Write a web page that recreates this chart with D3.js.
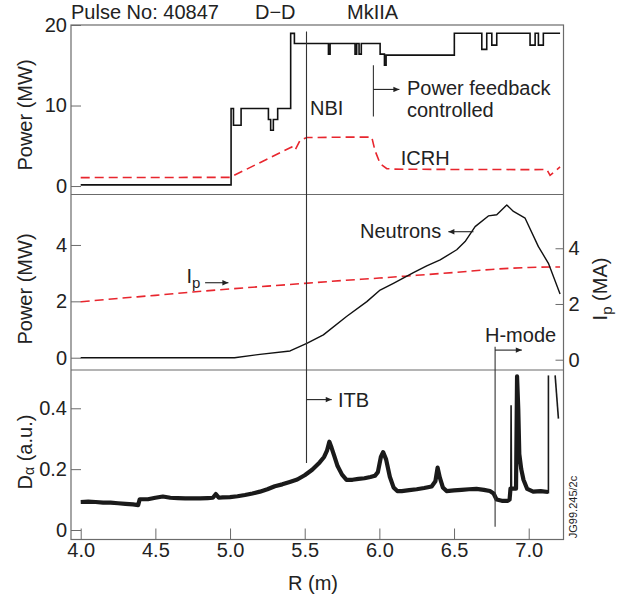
<!DOCTYPE html>
<html><head><meta charset="utf-8">
<script src="https://cdn.jsdelivr.net/npm/d3@7"></script>
<style>
body{margin:0;background:#fff;}
svg text{font-family:"Liberation Sans",Arial,Helvetica,sans-serif;fill:#222;}
</style></head><body>
<svg id="chart" width="622" height="596"></svg>
<script>
// ---------- data ----------
const xTicks = [4.0, 4.5, 5.0, 5.5, 6.0, 6.5, 7.0];
const powerTicks = [0, 10, 20];
const neutronTicks = [0, 2, 4];
const ipTicks = [0, 2, 4];
const daTicks = [0, 0.2, 0.4];

// NBI power (MW), step trace
const nbiR = [4.00, 5.007, 5.023, 5.074, 5.257, 5.272, 5.290, 5.319, 5.406, 5.431, 5.659, 5.670, 5.837, 5.848, 5.864, 5.879, 6.005, 6.034, 6.045, 6.502, 6.686, 6.719, 6.753, 6.786, 7.009, 7.043, 7.065, 7.098, 7.21];
const nbiP = [0.15, 9.63, 7.55, 9.63, 8.26, 6.93, 8.26, 9.63, 18.96, 17.71, 16.38, 17.71, 16.38, 17.71, 16.38, 17.71, 16.38, 15.0, 16.26, 18.97, 16.97, 18.97, 17.5, 18.97, 17.5, 18.97, 17.5, 18.97, 18.97];

// ICRH power (MW)
const icrhR = [4.00, 5.00, 5.413, 5.435, 5.469, 5.514, 5.75, 5.949, 5.970, 6.005, 6.050, 6.10, 6.50, 7.00, 7.121, 7.143, 7.21];
const icrhP = [1.05, 1.08, 4.85, 4.44, 5.68, 6.02, 6.07, 6.08, 4.44, 2.79, 2.16, 2.10, 2.06, 2.04, 2.05, 1.33, 2.37];

// Neutron power (MW)
const neutronR = [4.00, 4.50, 5.03, 5.20, 5.402, 5.514, 5.625, 5.78, 5.916, 6.005, 6.094, 6.228, 6.317, 6.407, 6.518, 6.574, 6.641, 6.730, 6.786, 6.853, 6.898, 6.976, 7.065, 7.132, 7.21];
const neutronP = [0.0, 0.0, 0.0, 0.12, 0.24, 0.51, 0.81, 1.46, 1.99, 2.40, 2.64, 3.02, 3.26, 3.47, 3.83, 4.12, 4.65, 5.03, 5.07, 5.42, 5.19, 4.95, 3.94, 3.35, 2.26];

// Plasma current Ip (MA)
const ipR = [4.00, 4.25, 4.50, 4.75, 5.00, 5.25, 5.50, 5.75, 6.00, 6.25, 6.50, 6.75, 7.00, 7.21];
const ipMA = [2.08, 2.20, 2.31, 2.43, 2.54, 2.64, 2.74, 2.84, 2.93, 3.03, 3.13, 3.24, 3.31, 3.33];

// D-alpha (a.u.)
const daR = [4.00, 4.05, 4.10, 4.15, 4.20, 4.25, 4.30, 4.35, 4.385, 4.395, 4.45, 4.50, 4.55, 4.60, 4.65, 4.70, 4.75, 4.80, 4.85, 4.885, 4.905, 4.925, 4.95, 5.00, 5.05, 5.10, 5.15, 5.20, 5.25, 5.30, 5.35, 5.40, 5.45, 5.50, 5.55, 5.60, 5.63, 5.65, 5.665, 5.68, 5.70, 5.72, 5.75, 5.78, 5.82, 5.86, 5.90, 5.94, 5.97, 5.99, 6.01, 6.025, 6.045, 6.07, 6.095, 6.12, 6.15, 6.20, 6.25, 6.30, 6.35, 6.375, 6.39, 6.405, 6.425, 6.45, 6.50, 6.55, 6.60, 6.65, 6.70, 6.74, 6.765, 6.785, 6.82, 6.86, 6.872, 6.878, 6.915, 6.922, 6.930, 6.937, 6.950, 6.965, 6.99, 7.03, 7.08, 7.13];
const daV = [0.092, 0.093, 0.092, 0.090, 0.090, 0.088, 0.086, 0.084, 0.082, 0.101, 0.101, 0.106, 0.110, 0.106, 0.105, 0.104, 0.104, 0.104, 0.105, 0.106, 0.118, 0.106, 0.107, 0.108, 0.111, 0.115, 0.120, 0.126, 0.134, 0.144, 0.150, 0.158, 0.166, 0.180, 0.198, 0.222, 0.240, 0.262, 0.290, 0.270, 0.240, 0.210, 0.182, 0.165, 0.165, 0.168, 0.170, 0.174, 0.178, 0.190, 0.240, 0.256, 0.232, 0.175, 0.140, 0.128, 0.128, 0.131, 0.134, 0.138, 0.143, 0.160, 0.205, 0.172, 0.140, 0.128, 0.130, 0.132, 0.134, 0.135, 0.132, 0.128, 0.120, 0.100, 0.096, 0.096, 0.100, 0.136, 0.136, 0.505, 0.400, 0.250, 0.200, 0.165, 0.135, 0.126, 0.128, 0.125];
// thin spikes of the D-alpha trace
const spike1R = [6.880, 6.882, 6.885];
const spike1V = [0.137, 0.410, 0.137];
const spike2R = [7.132, 7.132];
const spike2V = [0.120, 0.508];
const spike3R = [7.177, 7.199];
const spike3V = [0.508, 0.366];

// ---------- layout ----------
const svg = d3.select("#chart");
const L = 71, R = 563.5, T = 25, B = 539.5, D1 = 194.5, D2 = 370;
const frameColor = "#6b6b6b";
const red = "#e8262e";

const x = d3.scaleLinear().domain([3.935, 7.233]).range([L, R]);
const yTop = d3.scaleLinear().domain([-1.05, 20]).range([D1, T]);
const yMid = d3.scaleLinear().domain([-0.436, 5.79]).range([D2, D1]);
const yIp = d3.scaleLinear().domain([-0.37, 5.93]).range([D2, D1]);
const yDa = d3.scaleLinear().domain([-0.0312, 0.5258]).range([B, D2]);

// arrow marker
svg.append("defs").append("marker")
  .attr("id", "arr").attr("viewBox", "0 0 10 10").attr("refX", 10).attr("refY", 5)
  .attr("markerUnits", "userSpaceOnUse").attr("markerWidth", 7).attr("markerHeight", 6)
  .attr("orient", "auto")
  .append("path").attr("d", "M0,0.5 L10,5 L0,9.5 z").attr("fill", "#222");

function styleAxis(g) {
  g.select(".domain").remove();
  g.selectAll(".tick line").attr("stroke", frameColor);
  g.selectAll(".tick text").attr("font-size", 20).attr("fill", "#222")
    .attr("font-family", "Liberation Sans, Arial, sans-serif");
}
const intFmt = d3.format("d");

// axes
svg.append("g").attr("transform", `translate(${L},0)`)
  .call(d3.axisLeft(yTop).tickValues(powerTicks).tickFormat(intFmt).tickSize(-10).tickPadding(4)).call(styleAxis);
svg.append("g").attr("transform", `translate(${L},0)`)
  .call(d3.axisLeft(yMid).tickValues(neutronTicks).tickFormat(intFmt).tickSize(-10).tickPadding(4)).call(styleAxis);
svg.append("g").attr("transform", `translate(${R},0)`)
  .call(d3.axisRight(yIp).tickValues(ipTicks).tickFormat(intFmt).tickSize(-8).tickPadding(5)).call(styleAxis);
svg.append("g").attr("transform", `translate(${L},0)`)
  .call(d3.axisLeft(yDa).tickValues(daTicks).tickFormat(d => d === 0 ? "0" : d3.format(".1f")(d)).tickSize(-10).tickPadding(4)).call(styleAxis);
svg.append("g").attr("transform", `translate(0,${B})`)
  .call(d3.axisBottom(x).tickValues(xTicks).tickFormat(d3.format(".1f")).tickSize(-11).tickPadding(3.5)).call(styleAxis);

// frame
svg.append("rect").attr("x", L).attr("y", T).attr("width", R - L).attr("height", B - T)
  .attr("fill", "none").attr("stroke", frameColor).attr("stroke-width", 1.2);
[D1, D2].forEach(v => svg.append("line").attr("x1", L).attr("x2", R).attr("y1", v).attr("y2", v)
  .attr("stroke", frameColor).attr("stroke-width", 1.2));

// ---------- series ----------
const zip = (a, b) => a.map((v, i) => [v, b[i]]);

svg.append("path").datum(zip(icrhR, icrhP))
  .attr("d", d3.line().x(d => x(d[0])).y(d => yTop(d[1])))
  .attr("fill", "none").attr("stroke", red).attr("stroke-width", 1.6).attr("stroke-dasharray", "9,5");

svg.append("path").datum(zip(nbiR, nbiP))
  .attr("d", d3.line().curve(d3.curveStepAfter).x(d => x(d[0])).y(d => yTop(d[1])))
  .attr("fill", "none").attr("stroke", "#111").attr("stroke-width", 1.6);

svg.append("path").datum(zip(ipR, ipMA))
  .attr("d", d3.line().curve(d3.curveMonotoneX).x(d => x(d[0])).y(d => yIp(d[1])))
  .attr("fill", "none").attr("stroke", red).attr("stroke-width", 1.6).attr("stroke-dasharray", "9,5");

svg.append("path").datum(zip(neutronR, neutronP))
  .attr("d", d3.line().x(d => x(d[0])).y(d => yMid(d[1])))
  .attr("fill", "none").attr("stroke", "#111").attr("stroke-width", 1.4).attr("stroke-linejoin", "round");

svg.append("path").datum(zip(daR, daV))
  .attr("d", d3.line().x(d => x(d[0])).y(d => yDa(d[1])))
  .attr("fill", "none").attr("stroke", "#1a1a1a").attr("stroke-width", 4.2).attr("stroke-linejoin", "round");
[[spike1R, spike1V], [spike2R, spike2V], [spike3R, spike3V]].forEach(([r, v]) =>
  svg.append("path").datum(zip(r, v))
    .attr("d", d3.line().x(d => x(d[0])).y(d => yDa(d[1])))
    .attr("fill", "none").attr("stroke", "#1a1a1a").attr("stroke-width", 1.6));

// ---------- annotation lines ----------
const annColor = "#333";
function vline(r, y1, y2) {
  svg.append("line").attr("x1", x(r)).attr("x2", x(r)).attr("y1", y1).attr("y2", y2)
    .attr("stroke", annColor).attr("stroke-width", 1.1);
}
function arrow(r1, r2, yy) {
  svg.append("line").attr("x1", x(r1)).attr("x2", x(r2)).attr("y1", yy).attr("y2", yy)
    .attr("stroke", "#222").attr("stroke-width", 1.1).attr("marker-end", "url(#arr)");
}
vline(5.512, yTop(19.2), yDa(0.22));        // NBI / ITB line
vline(5.96, yTop(15.0), yTop(8.65));         // power feedback
arrow(5.96, 6.134, yTop(12.0));
vline(6.775, yMid(0.39), yDa(0.011));        // H-mode
arrow(6.775, 6.954, yMid(0.27));
arrow(5.512, 5.681, yDa(0.4285));            // ITB
arrow(6.63, 6.462, yMid(4.47));              // Neutrons
arrow(4.833, 4.989, yMid(2.66));             // Ip

// ---------- text ----------
function txt(s, px, py, size, anchor) {
  return svg.append("text").attr("x", px).attr("y", py).attr("font-size", size || 20)
    .attr("text-anchor", anchor || "start").text(s);
}
txt("Pulse No: 40847", 71, 18.5);
txt("D\u2212D", 255, 18.5);
txt("MkIIA", 347, 18.5);
txt("NBI", 310, 115);
txt("Power feedback", 407, 95);
txt("controlled", 407, 117);
txt("ICRH", 400.7, 165);
txt("Neutrons", 360, 238);
txt("H-mode", 485, 341.5);
txt("ITB", 338, 406.5);
const ipT = txt("I", 186.5, 282.5);
ipT.append("tspan").attr("font-size", 15).attr("dy", 5).text("p");

txt("R (m)", 313, 590, 20, "middle");

// y axis titles (rotated)
function vtxt(px, py) {
  return svg.append("text").attr("transform", `translate(${px},${py}) rotate(-90)`)
    .attr("font-size", 20).attr("text-anchor", "middle");
}
vtxt(32, 115).text("Power (MW)");
vtxt(32, 289).text("Power (MW)");
const da = vtxt(32, 452);
da.append("tspan").text("D");
da.append("tspan").attr("font-size", 14).attr("dy", 2).text("\u03b1");
da.append("tspan").attr("dy", -2).text(" (a.u.)");
const ipL = vtxt(607, 289);
ipL.append("tspan").text("I");
ipL.append("tspan").attr("font-size", 15).attr("dy", 5).text("p");
ipL.append("tspan").attr("dy", -5).text(" (MA)");

svg.append("text").attr("transform", "translate(577,507) rotate(-90)")
  .attr("font-size", 11).attr("text-anchor", "middle").text("JG99.245/2c");
</script>
</body></html>
